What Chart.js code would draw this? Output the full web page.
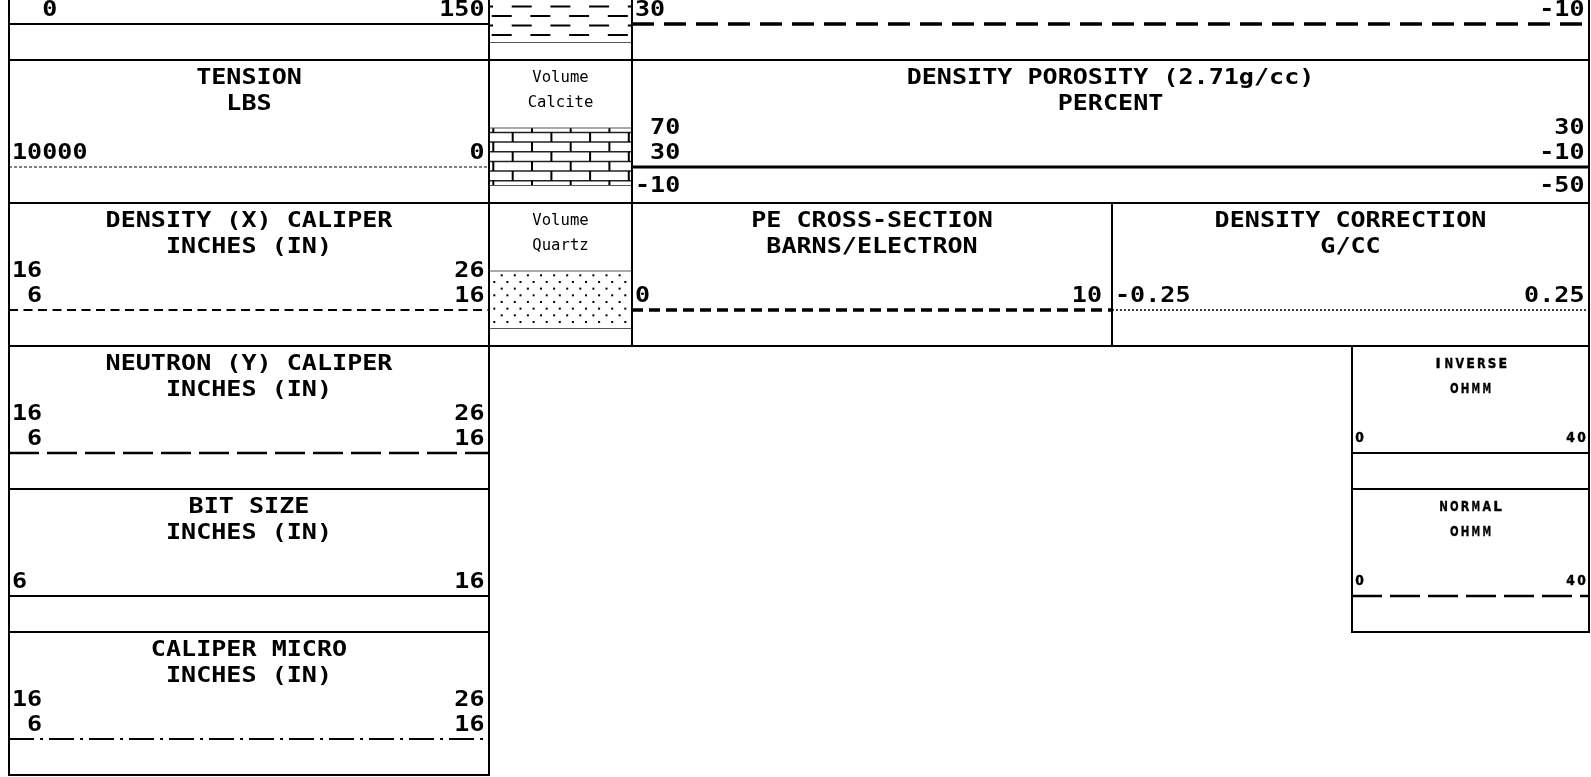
<!DOCTYPE html>
<html>
<head>
<meta charset="utf-8">
<script src="https://cdn.jsdelivr.net/npm/chart.js@4.4.0/dist/chart.umd.min.js"></script>
<style>
  html, body { margin: 0; padding: 0; background: #fff; }
  canvas { display: block; }
</style>
</head>
<body>
<canvas id="logHeader" width="1591" height="777"></canvas>
<script>
// Curve header data
const curveTitles = ['', 'TENSION', 'DENSITY (X) CALIPER', 'NEUTRON (Y) CALIPER', 'BIT SIZE', 'CALIPER MICRO',
                     '', 'DENSITY POROSITY (2.71g/cc)', 'PE CROSS-SECTION', 'DENSITY CORRECTION', 'INVERSE', 'NORMAL'];
const curveUnits = ['', 'LBS', 'INCHES (IN)', 'INCHES (IN)', 'INCHES (IN)', 'INCHES (IN)',
                    '', 'PERCENT', 'BARNS/ELECTRON', 'G/CC', 'OHMM', 'OHMM'];
const scaleLeft = [['  0'], ['10000'], ['16', ' 6'], ['16', ' 6'], ['6'], ['16', ' 6'],
                   ['30'], [' 70', ' 30', '-10'], ['0'], ['-0.25'], ['0'], ['0']];
const scaleRight = [['150'], ['0'], ['26', '16'], ['26', '16'], ['16'], ['26', '16'],
                    ['-10'], ['30', '-10', '-50'], ['10'], ['0.25'], ['40'], ['40']];

// Lithology column data
const lithologyTitles = [[], ['Volume', 'Calcite'], ['Volume', 'Quartz']];
const lithologyPatterns = ['shale', 'limestone', 'sandstone'];

// Layout (page units = pixels)
const W = 1591, H = 777;
const colEdges = [9, 489, 632, 1112, 1352, 1589];
const ROW_H = 143;
const rowTop = row => -83 + ROW_H * row;
const LINE_Y = 107;

const curveLayout = [
    { c0: 0, c1: 1, row: 0, line: 'solid' },
    { c0: 0, c1: 1, row: 1, line: 'fineDot' },
    { c0: 0, c1: 1, row: 2, line: 'dash' },
    { c0: 0, c1: 1, row: 3, line: 'longDash' },
    { c0: 0, c1: 1, row: 4, line: 'solid' },
    { c0: 0, c1: 1, row: 5, line: 'dashDot' },
    { c0: 2, c1: 5, row: 0, line: 'heavyDash' },
    { c0: 2, c1: 5, row: 1, line: 'heavySolid' },
    { c0: 2, c1: 3, row: 2, line: 'heavyShortDash', padRight: 10 },
    { c0: 3, c1: 5, row: 2, line: 'dot' },
    { c0: 4, c1: 5, row: 3, line: 'solid', small: true },
    { c0: 4, c1: 5, row: 4, line: 'longDash', small: true }
];

const lineStyles = {
    solid:          { width: 2,   dash: [] },
    fineDot:        { width: 1,   dash: [3, 2] },
    dash:           { width: 2,   dash: [9, 5.5] },
    longDash:       { width: 2.5, dash: [30, 8] },
    dashDot:        { width: 2,   dash: [25, 6, 3, 6] },
    heavySolid:     { width: 3,   dash: [] },
    heavyDash:      { width: 3.5, dash: [22, 10] },
    heavyShortDash: { width: 3.5, dash: [11, 6] },
    dot:            { width: 1.5, dash: [2, 2] }
};

const FONT_BIG = 'bold 22px "DejaVu Sans Mono"';
const FONT_LITH = '15px "DejaVu Sans Mono"';
const FONT_SMALL = 'bold 14px "DejaVu Sans"';

// Draw text, stretched horizontally
function drawText(ctx, str, x, y, align, font, stretch) {
    ctx.save();
    ctx.font = font;
    const w = ctx.measureText(str).width * stretch;
    const left = align === 'left' ? x : align === 'right' ? x - w : x - w / 2;
    ctx.translate(left, y);
    ctx.scale(stretch, 1);
    ctx.textAlign = 'left';
    ctx.textBaseline = 'alphabetic';
    ctx.fillStyle = '#000';
    ctx.fillText(str, 0, 0);
    ctx.restore();
}

// Draw text one char per cell (wide letter spacing)
function drawSpaced(ctx, str, x, y, align, pitch) {
    ctx.save();
    ctx.font = FONT_SMALL;
    ctx.fillStyle = '#000';
    ctx.strokeStyle = '#000';
    ctx.lineWidth = 0.4;
    ctx.textAlign = 'center';
    ctx.textBaseline = 'alphabetic';
    const total = str.length * pitch;
    const start = align === 'left' ? x : align === 'right' ? x - total : x - total / 2;
    for (let i = 0; i < str.length; i++) {
        const cx = start + pitch * (i + 0.5);
        ctx.fillText(str[i], cx, y, 8.6);
        ctx.strokeText(str[i], cx, y, 8.6);
    }
    ctx.restore();
}

function drawShale(ctx, x0, x1, yTop, yBot) {
    ctx.save();
    ctx.beginPath(); ctx.rect(x0, yTop, x1 - x0, yBot - yTop); ctx.clip();
    ctx.strokeStyle = '#000'; ctx.lineWidth = 2;
    ctx.beginPath();
    for (let y = yBot - 7.4, j = 0; y > yTop; y -= 9.55, j++) {
        const start = x0 + (j % 2 === 0 ? 2.7 : 22.7) - 38.7;
        for (let x = start; x < x1; x += 38.7) {
            ctx.moveTo(x, y); ctx.lineTo(x + 20, y);
        }
    }
    ctx.stroke();
    ctx.restore();
}

function drawBricks(ctx, x0, x1, yTop, yBot) {
    ctx.save();
    ctx.beginPath(); ctx.rect(x0, yTop, x1 - x0, yBot - yTop); ctx.clip();
    const bands = [yTop];
    for (let y = yTop + 4.4; y < yBot - 2; y += 9.67) bands.push(y);
    bands.push(yBot);
    ctx.strokeStyle = '#222'; ctx.lineWidth = 1.5;
    ctx.beginPath();
    for (let i = 1; i < bands.length - 1; i++) {
        ctx.moveTo(x0, bands[i]); ctx.lineTo(x1, bands[i]);
    }
    ctx.stroke();
    ctx.strokeStyle = '#000'; ctx.lineWidth = 2;
    ctx.beginPath();
    for (let i = 0; i < bands.length - 1; i++) {
        const phase = x0 + (i % 2 === 0 ? 4.3 : 23.7);
        for (let x = phase; x < x1; x += 38.7) {
            ctx.moveTo(x, bands[i]); ctx.lineTo(x, bands[i + 1]);
        }
    }
    ctx.stroke();
    ctx.restore();
}

function drawDots(ctx, x0, x1, yTop, yBot) {
    ctx.save();
    ctx.fillStyle = '#000';
    for (let y = yTop + 4.3, i = 0; y < yBot - 2; y += 6.67, i++) {
        for (let x = x0 + (i % 2 === 0 ? 12.7 : 5.3); x < x1 - 1; x += 13.1) {
            ctx.fillRect(x - 1, y - 1, 2, 2);
        }
    }
    ctx.restore();
}

const patternDrawers = { shale: drawShale, limestone: drawBricks, sandstone: drawDots };

// Header plugin: frames, patterns and labels
const headerPlugin = {
    id: 'logHeader',
    beforeDatasetsDraw(chart) {
        const ctx = chart.ctx;
        const px = v => chart.scales.x.getPixelForValue(v);
        const py = v => chart.scales.y.getPixelForValue(v);
        lithologyPatterns.forEach((pat, row) => {
            const x0 = px(colEdges[1]), x1 = px(colEdges[2]);
            const top = rowTop(row);
            const yTop = py(top + 68), yBot = py(top + 125.5);
            patternDrawers[pat](ctx, x0, x1, yTop, yBot);
            ctx.save();
            ctx.strokeStyle = '#555'; ctx.lineWidth = 1.2;
            ctx.beginPath();
            ctx.moveTo(x0, yTop); ctx.lineTo(x1, yTop);
            ctx.moveTo(x0, yBot); ctx.lineTo(x1, yBot);
            ctx.stroke();
            ctx.restore();
        });
    },
    afterDraw(chart) {
        const ctx = chart.ctx;
        const px = v => chart.scales.x.getPixelForValue(v);
        const py = v => chart.scales.y.getPixelForValue(v);

        // frames
        ctx.save();
        ctx.strokeStyle = '#000';
        ctx.lineWidth = 2;
        const frames = curveLayout.map(p => [p.c0, p.c1, p.row]);
        lithologyPatterns.forEach((_, row) => frames.push([1, 2, row]));
        frames.forEach(([c0, c1, row]) => {
            const x0 = px(colEdges[c0]), x1 = px(colEdges[c1]);
            const y0 = py(rowTop(row)), y1 = py(rowTop(row) + ROW_H);
            ctx.strokeRect(x0, y0, x1 - x0, y1 - y0);
        });
        ctx.restore();

        // curve labels
        curveLayout.forEach((p, i) => {
            const x0 = px(colEdges[p.c0]), x1 = px(colEdges[p.c1]);
            const top = rowTop(p.row);
            const cx = (x0 + x1) / 2;
            if (p.small) {
                drawSpaced(ctx, curveTitles[i], cx, py(top + 22), 'center', 10.8);
                drawSpaced(ctx, curveUnits[i], cx, py(top + 47), 'center', 10.8);
                drawSpaced(ctx, scaleLeft[i][0], x0 + 2, py(top + 96), 'left', 11);
                drawSpaced(ctx, scaleRight[i][0], x1 - 2, py(top + 96), 'right', 11);
                return;
            }
            const padR = p.padRight || 4.5;
            if (curveTitles[i]) drawText(ctx, curveTitles[i], cx, py(top + 24), 'center', FONT_BIG, 1.14);
            if (curveUnits[i]) drawText(ctx, curveUnits[i], cx, py(top + 49.5), 'center', FONT_BIG, 1.14);
            const n = scaleLeft[i].length;
            const offsets = n === 1 ? [91] : n === 2 ? [66, 91] : [66, 91, 123.5];
            offsets.forEach((off, k) => {
                drawText(ctx, scaleLeft[i][k], x0 + 3, py(top + off + 8), 'left', FONT_BIG, 1.14);
                drawText(ctx, scaleRight[i][k], x1 - padR, py(top + off + 8), 'right', FONT_BIG, 1.14);
            });
        });

        // lithology labels
        lithologyTitles.forEach((lines, row) => {
            const cx = (px(colEdges[1]) + px(colEdges[2])) / 2;
            lines.forEach((t, k) => {
                drawText(ctx, t, cx, py(rowTop(row) + 21.5 + 25.5 * k), 'center', FONT_LITH, 1.04);
            });
        });
    }
};

// Curve sample lines as line datasets
const datasets = curveLayout.map(p => {
    const style = lineStyles[p.line];
    const y = rowTop(p.row) + LINE_Y;
    return {
        data: [{ x: colEdges[p.c0], y: y }, { x: colEdges[p.c1], y: y }],
        borderColor: '#000',
        borderWidth: style.width,
        borderDash: style.dash,
        borderCapStyle: 'butt',
        pointRadius: 0,
        fill: false
    };
});

document.addEventListener('DOMContentLoaded', () => {
    const ctx = document.getElementById('logHeader').getContext('2d');
    new Chart(ctx, {
        type: 'line',
        data: { datasets },
        options: {
            responsive: false,
            animation: false,
            events: [],
            devicePixelRatio: 1,
            layout: { padding: 0 },
            plugins: { legend: { display: false }, tooltip: { enabled: false }, title: { display: false } },
            scales: {
                x: { type: 'linear', min: 0, max: W, display: false },
                y: { type: 'linear', min: 0, max: H, reverse: true, display: false }
            }
        },
        plugins: [headerPlugin]
    });
});
</script>
</body>
</html>
